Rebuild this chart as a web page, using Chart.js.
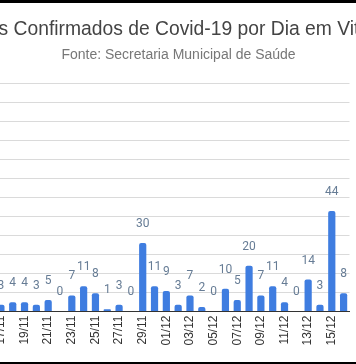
<!DOCTYPE html>
<html><head><meta charset="utf-8">
<script src="https://cdn.jsdelivr.net/npm/chart.js@4/dist/chart.umd.min.js"></script>
<style>
html,body{margin:0;padding:0;background:#000;width:356px;height:364px;overflow:hidden;}
#wrap{position:absolute;left:0;top:3px;width:356px;height:359px;background:#fff;overflow:hidden;}
#box{position:absolute;left:-5px;top:0;width:367px;height:359px;}
</style></head><body>
<div id="wrap"><div id="box"><canvas id="c" width="367" height="359"></canvas></div></div>
<script>
const chartTitle = 'Casos Confirmados de Covid-19 por Dia em Vitória';
const chartSubtitle = 'Fonte: Secretaria Municipal de Saúde';
const dates = ['17/11','18/11','19/11','20/11','21/11','22/11','23/11','24/11','25/11','26/11','27/11','28/11','29/11','30/11',
  '01/12','02/12','03/12','04/12','05/12','06/12','07/12','08/12','09/12','10/12','11/12','12/12','13/12','14/12','15/12','16/12'];
const cases = [3,4,4,3,5,0,7,11,8,1,3,0,30,11,9,3,7,2,0,10,5,20,7,11,4,0,14,3,44,8];
const yMax = 100;
const yTickCount = 13;

const bigTitle = {
  id: 'bigTitle',
  afterDraw(chart) {
    const ctx = chart.ctx;
    ctx.save();
    ctx.font = '19.3px "Liberation Sans", Arial, sans-serif';
    ctx.fillStyle = '#444444';
    ctx.textAlign = 'center';
    ctx.textBaseline = 'middle';
    ctx.fillText(chartTitle, chart.width / 2 - 6, 26.7);
    ctx.restore();
  }
};
const valueLabels = {
  id: 'valueLabels',
  afterDatasetsDraw(chart) {
    const ctx = chart.ctx;
    const meta = chart.getDatasetMeta(0);
    ctx.save();
    ctx.font = '12px Roboto, sans-serif';
    ctx.fillStyle = '#667c95';
    ctx.textAlign = 'center';
    ctx.textBaseline = 'middle';
    meta.data.forEach((el, i) => {
      ctx.fillText(String(cases[i]), el.x, el.y - 19);
    });
    ctx.restore();
  }
};

new Chart(document.getElementById('c'), {
  type: 'bar',
  data: {
    labels: dates,
    datasets: [{
      data: cases,
      backgroundColor: '#3f7de0',
      borderRadius: 2,
      borderSkipped: 'bottom',
      barPercentage: 0.61,
      categoryPercentage: 1.0
    }]
  },
  plugins: [bigTitle, valueLabels],
  options: {
    responsive: false,
    animation: false,
    layout: { padding: { left: 0, right: 0, top: 0, bottom: 12.5 } },
    plugins: {
      legend: { display: false },
      tooltip: { enabled: false },
      title: { display: false },
      subtitle: {
        display: true,
        text: chartSubtitle,
        color: '#777777',
        font: { family: '"Liberation Sans", Arial, sans-serif', size: 14, weight: 'normal' },
        padding: { top: 43.6, bottom: 19.9 }
      }
    },
    scales: {
      x: {
        grid: { display: false, drawTicks: false },
        border: { display: true, color: '#333333', width: 1 },
        ticks: {
          autoSkip: false, minRotation: 90, maxRotation: 90, padding: 4,
          color: '#333333',
          font: { family: '"Liberation Sans", Arial, sans-serif', size: 12 },
          callback: (v, i) => (i % 2 === 0 ? dates[i] : '')
        }
      },
      y: {
        min: 0, max: yMax,
        ticks: { display: false, count: yTickCount },
        grid: { color: '#dadada', drawTicks: false },
        border: { display: false }
      }
    }
  }
});
</script>
</body></html>
